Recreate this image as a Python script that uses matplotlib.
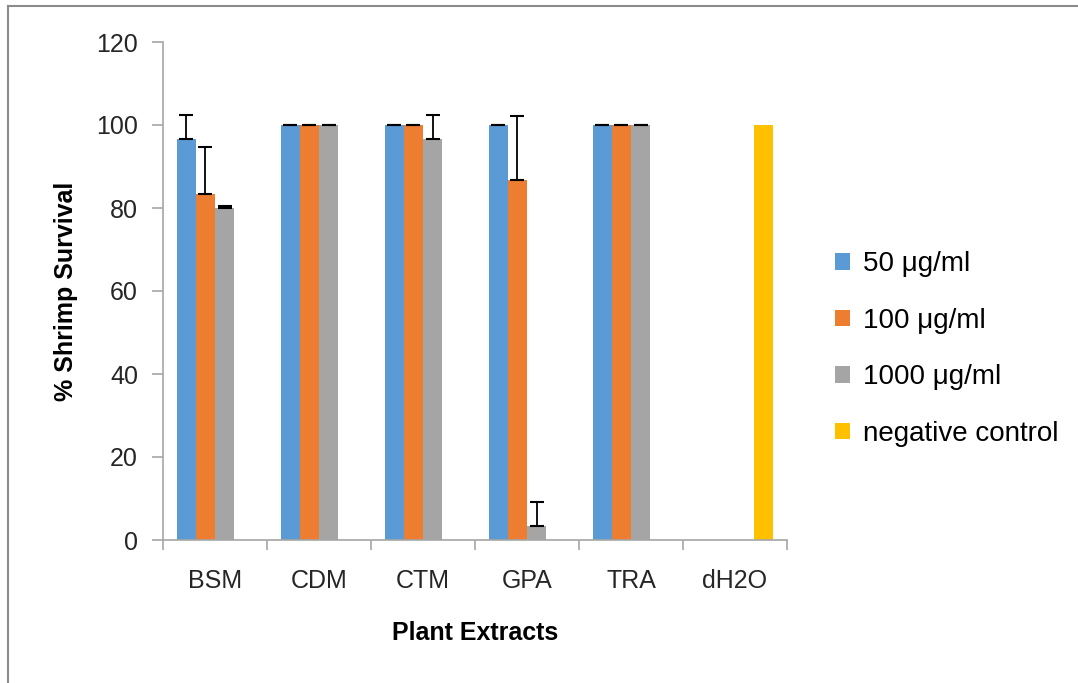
import numpy as np
import matplotlib
matplotlib.use("Agg")
import matplotlib.pyplot as plt
from matplotlib.lines import Line2D

plt.rcParams['font.family'] = ['Liberation Sans', 'DejaVu Sans']

# data
extracts = ['BSM', 'CDM', 'CTM', 'GPA', 'TRA', 'dH2O']
series = ['50 μg/ml', '100 μg/ml', '1000 μg/ml', 'negative control']
s50 = [96.7, 100, 100, 100, 100, 0]
s100 = [83.3, 100, 100, 86.7, 100, 0]
s1000 = [80, 100, 96.7, 3.3, 100, 0]
neg = [0, 0, 0, 0, 0, 100]
err50 = [5.8, 0, 0, 0, 0, None]
err100 = [11.5, 0, 0, 15.5, 0, None]
err1000 = [0.4, 0, 5.8, 5.8, 0, None]

colors = ['#5B9BD5', '#ED7D31', '#A5A5A5', '#FFC000']

fig = plt.figure(figsize=(10.78, 6.83), dpi=100)
ax = fig.add_axes([163/1078, 1-540/683, 624/1078, 498/683])

x = np.arange(len(extracts))
w = 0.183
vals = [s50, s100, s1000, neg]
errs = [err50, err100, err1000, None]
for i, (v, c, lab) in enumerate(zip(vals, colors, series)):
    pos = x + (i - 1.5) * w
    ax.bar(pos, v, width=w, color=c, label=lab, zorder=2)
    e = errs[i]
    if e is not None:
        idx = [k for k in range(len(e)) if e[k] is not None]
        ax.errorbar(pos[idx], [v[k] for k in idx],
                    yerr=[[0]*len(idx), [e[k] for k in idx]],
                    fmt='none', ecolor='black', elinewidth=1.3,
                    capsize=5, capthick=1.5, zorder=3)

ax.set_xlim(-0.5, len(extracts) - 0.5)
ax.set_ylim(0, 120)
ax.set_yticks(range(0, 121, 20))
ax.set_xticks(x)
ax.set_xticklabels(extracts)
ax.set_xticks(np.arange(-0.5, len(extracts)), minor=True)
ax.tick_params(axis='x', which='major', length=0, pad=21, labelsize=18, labelcolor='#262626')
ax.tick_params(axis='x', which='minor', length=7, color='#A6A6A6', width=1.2)
ax.tick_params(axis='y', length=8, color='#A6A6A6', width=1.2, pad=10, labelsize=18, labelcolor='#262626')

for s in ['top', 'right']:
    ax.spines[s].set_visible(False)
for s in ['left', 'bottom']:
    ax.spines[s].set_color('#A6A6A6')
    ax.spines[s].set_linewidth(1.2)

ax.set_xlabel('Plant Extracts', fontsize=18, fontweight='bold', labelpad=20)
ax.set_ylabel('% Shrimp Survival', fontsize=18, fontweight='bold', labelpad=13)

ax.legend(loc='center left', bbox_to_anchor=(810/1078, 1-349/683),
          bbox_transform=fig.transFigure, frameon=False, fontsize=20,
          handlelength=0.55, handleheight=0.55, handletextpad=0.45,
          labelspacing=1.1)

# outer chart border
fig.add_artist(Line2D([8/1078, 1], [1-6/683, 1-6/683], color='#8C8C8C', lw=1.5))
fig.add_artist(Line2D([8/1078, 8/1078], [0, 1-6/683], color='#8C8C8C', lw=1.5))

fig.savefig('out.png', dpi=100)
